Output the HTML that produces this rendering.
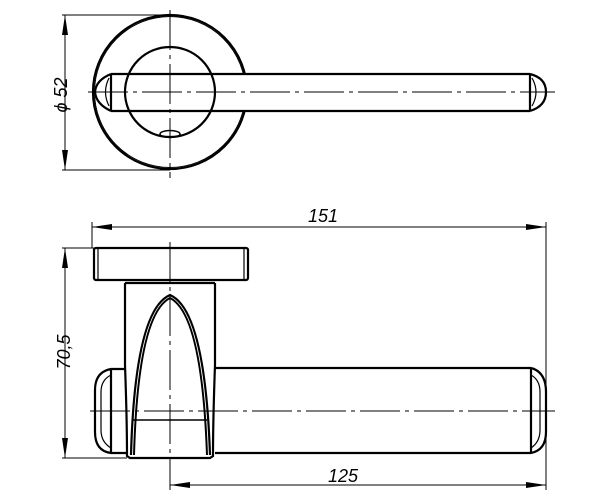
<!DOCTYPE html>
<html><head><meta charset="utf-8"><style>html,body{margin:0;padding:0;background:#fff}svg{display:block}</style></head>
<body>
<svg width="600" height="500" viewBox="0 0 600 500" xmlns="http://www.w3.org/2000/svg" fill="none" stroke="#000">
<!-- TOP VIEW -->
<g stroke-width="2.2">
<circle cx="170" cy="92" r="77"/>
<circle cx="170" cy="92" r="75.5" stroke-width="1"/>
<rect x="216" y="75" width="40" height="35" fill="#fff" stroke="none"/>
<circle cx="170" cy="92" r="45"/>
<path d="M111 74 H530 M111 111 H530 M530 74 V111"/>
<path d="M530 74 Q546 78 546 92 Q546 106 530 111"/>
<path d="M111 74 V111"/>
<path d="M111 74 Q96 80 95 92 Q96 104 111 111"/>
<ellipse cx="170" cy="134" rx="10" ry="3.5" stroke-width="1.5"/>
</g>
<path d="M532 78 Q540 92 532 106 M109 78 Q102 92 109 106" stroke-width="1.2"/>
<g stroke-width="1">
<path d="M88 92 H555" stroke-dasharray="40 5 4 5"/>
<path d="M170 10 V178" stroke-dasharray="40 5 4 5"/>
<path d="M62 15 H170 M62 170 H170"/>
<path d="M65 15 V170"/>
</g>
<path d="M65 15 L62 35 L68 35Z M65 170 L62 150 L68 150Z" fill="#000" stroke="none"/>
<text x="0" y="0" transform="translate(67 95) rotate(-90)" text-anchor="middle" font-family="Liberation Sans, sans-serif" font-style="italic" font-size="18" fill="#000" stroke="none">ϕ 52</text>

<!-- SIDE VIEW -->
<g stroke-width="2.2">
<rect x="94" y="248" width="154" height="32" rx="2"/>
<path d="M98 249 V279 M244 249 V279" stroke-width="1.2"/>
<path d="M125 283 H215 M125 283 V365 M215 283 V365"/>
<path d="M125 365 Q127 420 127 456 L130 458 H210 L213 456 Q213 420 215 365"/>
<path d="M131 455 Q135 310 170 295 Q205 310 210 455"/>
<path d="M215 368 H531 M215 453 H531 M531 368 V453"/>
<path d="M531 368 Q546 372 546 392 V432 Q546 450 531 453"/>
<path d="M125 369 H111 Q95 372 95 390 V432 Q95 451 111 453 H127 M111 369 V453"/>
<path d="M133 420 H207" stroke-width="1.5"/>
</g>
<path d="M134 455 Q138 314 170 298 Q202 314 207 455" stroke-width="2"/>
<path d="M111 375 Q101 380 101 392 V430 Q101 442 111 448 M531 375 Q540 380 540 392 V430 Q540 442 531 448" stroke-width="1.2"/>
<g stroke-width="1">
<path d="M90 411 H555" stroke-dasharray="40 5 4 5"/>
<path d="M170 242 V490" stroke-dasharray="40 5 4 5"/>
<path d="M92 222 V248 M546 222 V490 M170 460 V490"/>
<path d="M92 227 H546 M170 485 H546"/>
<path d="M62 248 H94 M62 458 H127 M65 248 V458"/>
</g>
<path d="M92 227 L112 224 L112 230Z M546 227 L526 224 L526 230Z M170 485 L190 482 L190 488Z M546 485 L526 482 L526 488Z M65 248 L62 268 L68 268Z M65 458 L62 438 L68 438Z" fill="#000" stroke="none"/>
<g font-family="Liberation Sans, sans-serif" font-style="italic" font-size="18" fill="#000" stroke="none">
<text x="308" y="222">151</text>
<text x="328" y="482">125</text>
<text transform="translate(70 352) rotate(-90)" text-anchor="middle">70,5</text>
</g>
</svg>
</body></html>
